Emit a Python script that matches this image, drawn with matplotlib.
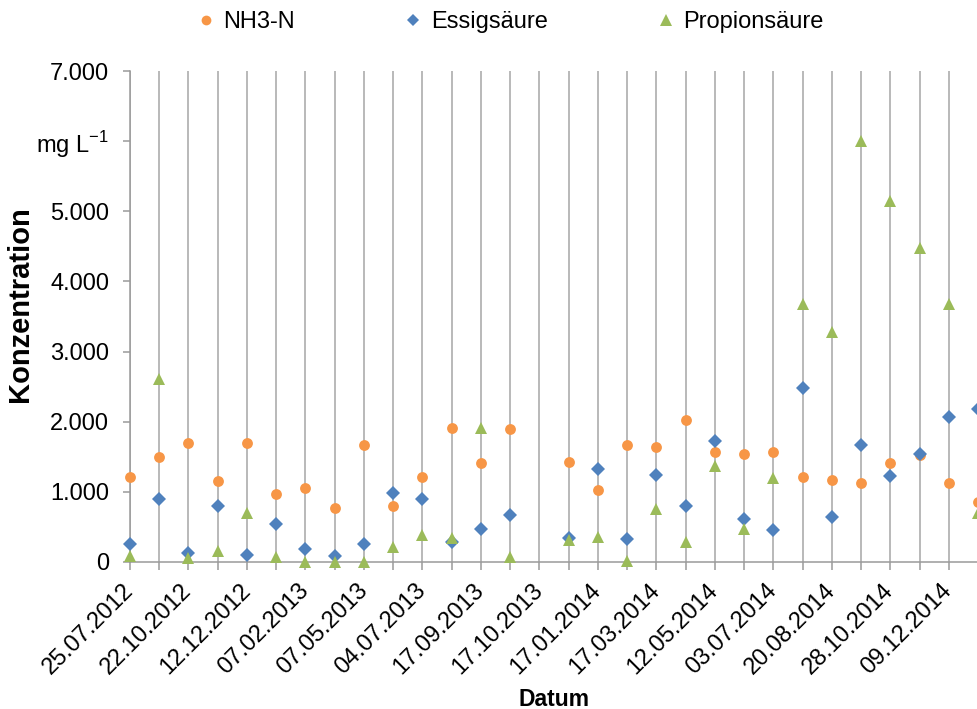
import numpy as np
import matplotlib
matplotlib.use('Agg')
import matplotlib.pyplot as plt

plt.rcParams['font.family'] = ['Liberation Sans', 'DejaVu Sans']

# only every second date is printed on the axis
dates = ['25.07.2012', '22.10.2012', '12.12.2012', '07.02.2013', '07.05.2013',
         '04.07.2013', '17.09.2013', '17.10.2013', '17.01.2014', '17.03.2014',
         '12.05.2014', '03.07.2014', '20.08.2014', '28.10.2014', '09.12.2014']

nan = np.nan
nh3 = [1215, 1495, 1690, 1160, 1700, 965, 1060, 775, 1675, 805,
       1210, 1910, 1415, 1895, nan, 1430, 1030, 1675, 1640, 2025,
       1575, 1545, 1575, 1205, 1175, 1125, 1415, 1520, 1125, 855]
essig = [255, 900, 135, 805, 95, 545, 190, 85, 260, 980,
         900, 290, 465, 670, nan, 340, 1330, 325, 1235, 805,
         1720, 615, 450, 2475, 645, 1675, 1220, 1545, 2070, 2180]
propion = [80, 2610, 55, 160, 695, 65, 0, 0, 0, 210,
           380, 345, 1915, 65, nan, 315, 360, 20, 750, 290,
           1370, 475, 1195, 3675, 3285, 6000, 5145, 4475, 3675, 695]

fig = plt.figure(figsize=(9.77, 7.09), dpi=100)
ax = fig.add_axes([130/977, 147/709, 848/977, 491/709])

x = np.arange(len(nh3))
ax.plot(x, nh3, 'o', color='#F79646', ms=7.8, mew=0, clip_on=False, label='NH3-N', zorder=3)
ax.plot(x, essig, 'D', color='#4F81BD', ms=7.3, mew=0, clip_on=False, label='Essigsäure', zorder=4)
ax.plot(x, propion, '^', color='#9BBB59', ms=8.8, mew=0, clip_on=False, label='Propionsäure', zorder=5)

ax.set_xlim(0, len(nh3) - 1)
ax.set_ylim(0, 7000)

labels = [''] * len(nh3)
labels[::2] = dates
ax.set_xticks(x)
ax.set_xticklabels(labels, rotation=45, ha='right', va='center',
                   rotation_mode='anchor', fontsize=17)

yt = [0, 1000, 2000, 3000, 4000, 5000, 6000, 7000]
ylab = ['0', '1.000', '2.000', '3.000', '4.000', '5.000',
        r'mg L$^{\mathregular{-1}}$', '7.000']
ax.set_yticks(yt)
ax.set_yticklabels(ylab, fontsize=17)

ax.grid(axis='x', color='#a6a6a6', lw=1.1)
ax.set_axisbelow(True)
for s in ['top', 'right']:
    ax.spines[s].set_visible(False)
for s in ['left', 'bottom']:
    ax.spines[s].set_color('#9a9a9a')
    ax.spines[s].set_linewidth(1.1)
ax.tick_params(axis='x', length=6, color='#9a9a9a', width=1.1, pad=12)
ax.tick_params(axis='y', length=5, color='#9a9a9a', width=1.1, pad=10)

fig.text(20/977, 1 - 304/709, 'Konzentration', rotation=90, ha='center', va='center',
         fontsize=21, fontweight='bold')
fig.text(554/977, 1 - 699/709, 'Datum', ha='center', va='center',
         fontsize=16.5, fontweight='bold')

fig.legend(loc='center', bbox_to_anchor=(0.522, 0.969), ncol=3, frameon=False,
           fontsize=17, handlelength=0.8, handletextpad=0.35, columnspacing=4.6,
           markerscale=0.9)

fig.savefig('out.png', dpi=100)
